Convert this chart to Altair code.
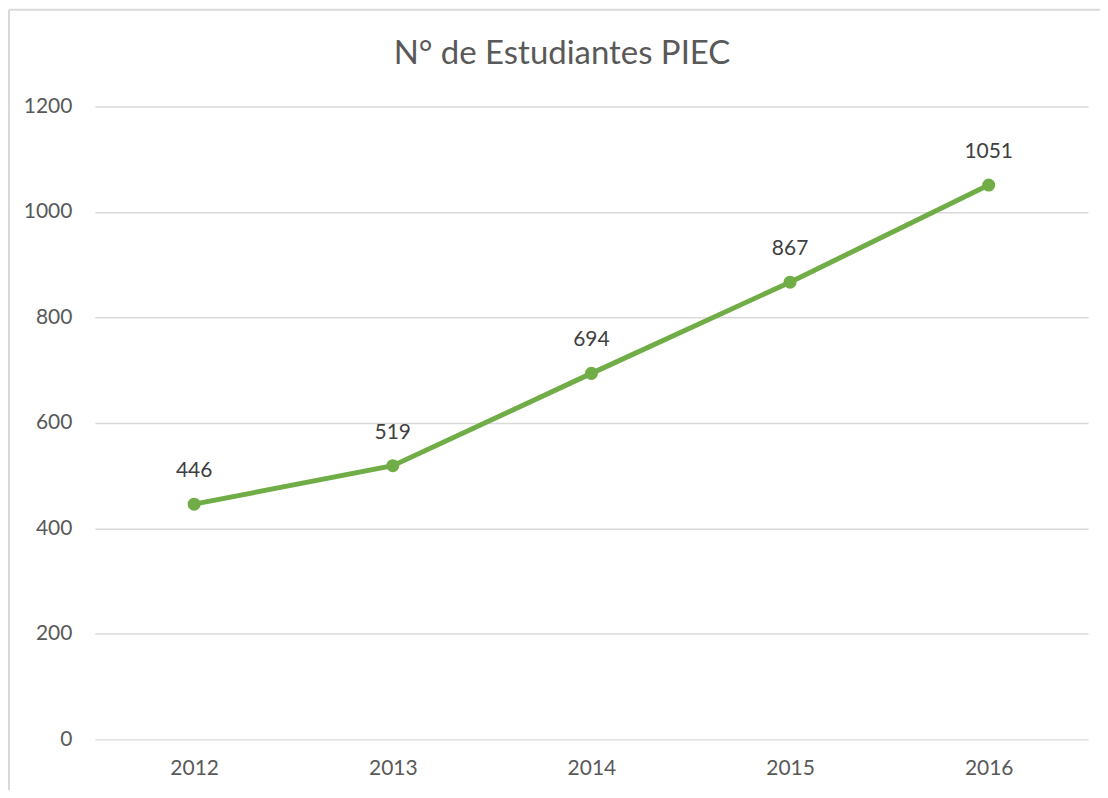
import altair as alt
import pandas as pd

years = ["2012", "2013", "2014", "2015", "2016"]
students = [446, 519, 694, 867, 1051]
title_text = ["N° de Estudiantes PIEC"]

df = pd.DataFrame({"year": years, "students": students})
tdf = pd.DataFrame({"t": title_text})

FONT = "Lato"
GRID = "#d9d9d9"
GREEN = "#70AD47"

base = alt.Chart(df).encode(
    x=alt.X("year:N", sort=years, title=None,
            scale=alt.Scale(paddingInner=0, paddingOuter=0),
            axis=alt.Axis(labelAngle=0, ticks=False, domain=False, grid=False,
                          labelFont=FONT, labelFontSize=21, labelColor="#595959",
                          labelPadding=18)),
    y=alt.Y("students:Q", title=None,
            scale=alt.Scale(domain=[0, 1200], nice=False),
            axis=alt.Axis(values=[0, 200, 400, 600, 800, 1000, 1200], ticks=False,
                          format="d", domain=False, gridColor=GRID, gridWidth=1.5,
                          labelFont=FONT, labelFontSize=21, labelColor="#595959",
                          labelPadding=23)),
)

border_top = alt.Chart(tdf).mark_rule(stroke=GRID, strokeWidth=2).encode(
    x=alt.value(-86), x2=alt.value(1200), y=alt.value(-97)
)
border_left = alt.Chart(tdf).mark_rule(stroke=GRID, strokeWidth=2).encode(
    x=alt.value(-86), y=alt.value(-97), y2=alt.value(900)
)

title = alt.Chart(tdf).mark_text(font=FONT, fontSize=33, color="#595959",
                                 align="center", baseline="alphabetic").encode(
    text="t:N", x=alt.value(468), y=alt.value(-43)
)

line = base.mark_line(color=GREEN, strokeWidth=5)
points = base.mark_point(filled=True, color=GREEN, size=170, opacity=1, shape="circle")
labels = base.mark_text(dy=-33, baseline="middle", font=FONT, fontSize=21,
                        color="#404040").encode(text="students:Q")

chart = alt.layer(border_top, border_left, title, line, points, labels).properties(
    width=995, height=634,
    background="white",
    autosize=alt.AutoSizeParams(type="none"),
    padding={"left": 87, "top": 98, "right": 12, "bottom": 50},
).configure_view(strokeWidth=0, stroke="transparent")

chart.save("out.html", embed_options={"renderer": "svg", "actions": False})
